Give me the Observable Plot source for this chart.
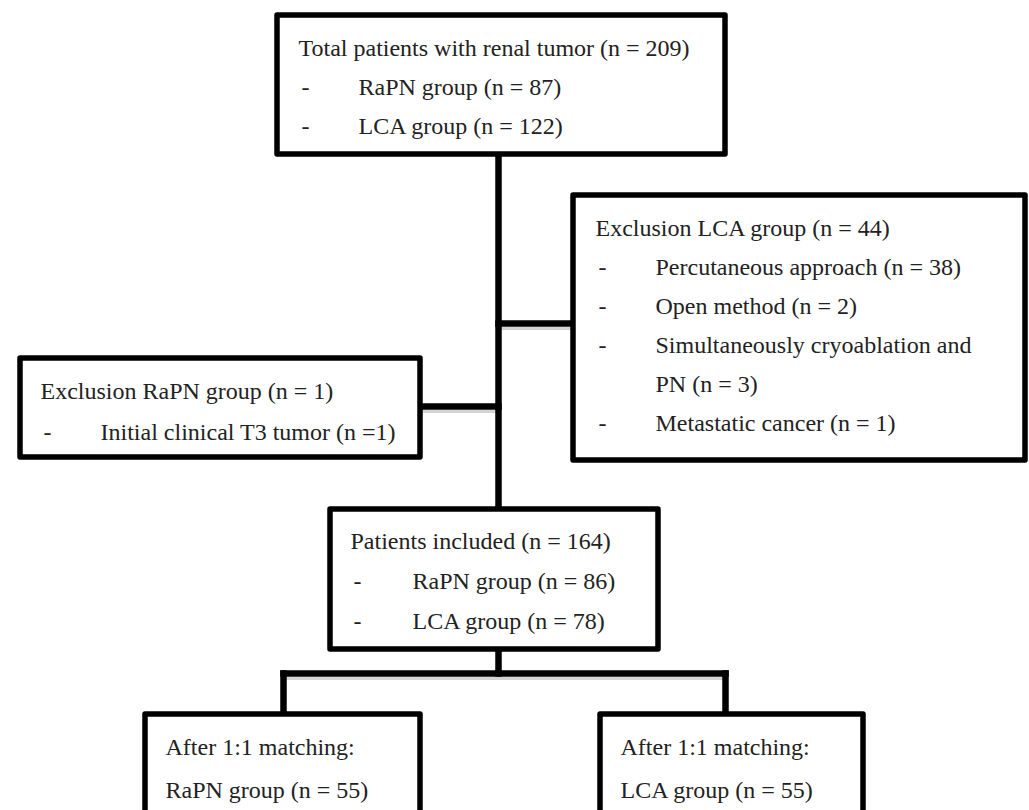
<!DOCTYPE html>
<html>
<head>
<meta charset="utf-8">
<script src="https://cdn.jsdelivr.net/npm/d3@7"></script>
<script src="https://cdn.jsdelivr.net/npm/@observablehq/plot@0.6"></script>
<style>
  html, body { margin: 0; padding: 0; background: #fff; }
  #chart svg { display: block; }
</style>
</head>
<body>
<div id="chart"></div>
<script>
// ---- content (text of each box) ----
const boxIds = ["total", "exclLCA", "exclRaPN", "included", "matchRaPN", "matchLCA"];
const boxHeaders = [
  "Total patients with renal tumor (n = 209)",
  "Exclusion LCA group (n = 44)",
  "Exclusion RaPN group (n = 1)",
  "Patients included (n = 164)",
  "After 1:1 matching:",
  "After 1:1 matching:"
];
const boxBullets = [
  ["RaPN group (n = 87)", "LCA group (n = 122)"],
  ["Percutaneous approach (n = 38)", "Open method (n = 2)", "Simultaneously cryoablation and\nPN (n = 3)", "Metastatic cancer (n = 1)"],
  ["Initial clinical T3 tumor (n =1)"],
  ["RaPN group (n = 86)", "LCA group (n = 78)"],
  [],
  []
];
const boxPlain = [[], [], [], [], ["RaPN group (n = 55)"], ["LCA group (n = 55)"]];

// ---- layout (diagram coordinates, px) ----
const boxFrames = [
  {x1: 277, x2: 725, y1: 15,  y2: 154, tx: 298, ix: 358, ty: 48,  dy: 39},
  {x1: 573, x2: 1025, y1: 195, y2: 460, tx: 595, ix: 655, ty: 228, dy: 39},
  {x1: 20,  x2: 420, y1: 358, y2: 457, tx: 40,  ix: 100, ty: 391, dy: 41},
  {x1: 330, x2: 658, y1: 509, y2: 649, tx: 350, ix: 412, ty: 541, dy: 40},
  {x1: 145, x2: 420, y1: 714, y2: 840, tx: 165, ix: 165, ty: 747, dy: 43},
  {x1: 600, x2: 863, y1: 714, y2: 840, tx: 620, ix: 620, ty: 747, dy: 43}
];
const connectors = [
  [[498, 154], [498, 509]],
  [[498, 323], [573, 323]],
  [[420, 406], [498, 406]],
  [[498, 649], [498, 673]],
  [[283, 673], [725, 673]],
  [[283, 673], [283, 714]],
  [[725, 673], [725, 714]]
];

// ---- build tables for the marks ----
const frames = boxIds.map((id, i) => ({id, ...boxFrames[i]}));
const textRows = [];
const dashRows = [];
boxIds.forEach((id, i) => {
  const f = boxFrames[i];
  let row = 0;
  textRows.push({x: f.tx, y: f.ty + f.dy * row, text: boxHeaders[i]});
  row++;
  boxBullets[i].forEach(item => {
    item.split("\n").forEach((part, k) => {
      if (k === 0) dashRows.push({x: f.tx, y: f.ty + f.dy * row});
      textRows.push({x: f.ix, y: f.ty + f.dy * row, text: part});
      row++;
    });
  });
  boxPlain[i].forEach(item => {
    textRows.push({x: f.tx, y: f.ty + f.dy * row, text: item});
    row++;
  });
});
const segs = connectors.map(([a, b], i) => ({i, x1: a[0], y1: a[1], x2: b[0], y2: b[1]}));
const shadowSegs = segs.filter(s => s.y1 === s.y2).map(s => ({...s, y1: s.y1 + 5, y2: s.y2 + 5}));

const chart = Plot.plot({
  width: 1029,
  height: 810,
  margin: 0,
  style: {background: "#fff"},
  x: {domain: [0, 1029], range: [0, 1029], axis: null},
  y: {domain: [0, 810], range: [0, 810], axis: null},
  marks: [
    Plot.link(shadowSegs, {x1: "x1", y1: "y1", x2: "x2", y2: "y2", stroke: "#d4d4d4", strokeWidth: 3}),
    Plot.link(segs, {x1: "x1", y1: "y1", x2: "x2", y2: "y2", stroke: "#000", strokeWidth: 6.5, strokeLinecap: "square"}),
    Plot.rect(frames, {x1: "x1", x2: "x2", y1: "y1", y2: "y2", fill: "#fff", stroke: "#000", strokeWidth: 5.5, strokeLinejoin: "round"}),
    Plot.text(dashRows, {x: d => d.x + 3, y: "y", text: () => "-", textAnchor: "start", lineAnchor: "middle",
      fontFamily: "Liberation Serif", fontSize: 24, fill: "#222"}),
    Plot.text(textRows, {x: "x", y: "y", text: "text", textAnchor: "start", lineAnchor: "middle",
      fontFamily: "Liberation Serif", fontSize: 24, fill: "#222"})
  ]
});
document.getElementById("chart").appendChild(chart);
</script>
</body>
</html>
